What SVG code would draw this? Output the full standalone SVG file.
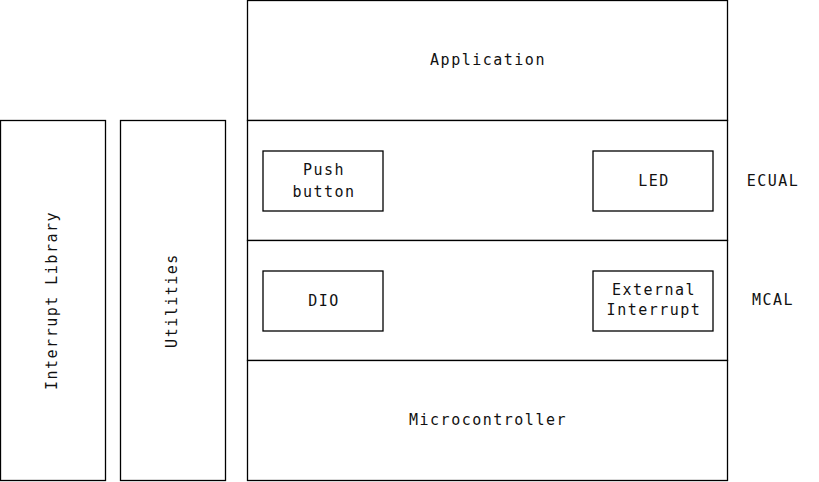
<svg xmlns="http://www.w3.org/2000/svg" width="819" height="482" viewBox="0 0 819 482">
<style>
.box{fill:#fff;stroke:#000;stroke-width:1.3}
text{font-family:"DejaVu Sans Mono","Liberation Mono",monospace;font-size:15px;fill:#111;text-anchor:middle;letter-spacing:1.5px}
</style>
<rect width="819" height="482" fill="#fff"/>
<g id="interrupt-library"><rect class="box" x="0.5" y="120.5" width="105" height="360"/><text transform="translate(57,300.5) rotate(-90)">Interrupt Library</text></g>
<g id="utilities"><rect class="box" x="120.5" y="120.5" width="105" height="360"/><text transform="translate(177,300.5) rotate(-90)">Utilities</text></g>
<g id="application"><rect class="box" x="247.5" y="0.5" width="480" height="120"/><text x="488" y="65">Application</text></g>
<g id="ecual-layer"><rect class="box" x="247.5" y="120.5" width="480" height="120"/></g>
<g id="mcal-layer"><rect class="box" x="247.5" y="240.5" width="480" height="120"/></g>
<g id="microcontroller"><rect class="box" x="247.5" y="360.5" width="480" height="120"/><text x="488" y="425">Microcontroller</text></g>
<g id="push-button"><rect class="box" x="263" y="151" width="120" height="60"/><text x="324" y="175">Push</text><text x="324" y="197">button</text></g>
<g id="led"><rect class="box" x="593" y="151" width="120" height="60"/><text x="654" y="186">LED</text></g>
<g id="dio"><rect class="box" x="263" y="271" width="120" height="60"/><text x="324" y="306">DIO</text></g>
<g id="external-interrupt"><rect class="box" x="593" y="271" width="120" height="60"/><text x="654" y="295">External</text><text x="654" y="315">Interrupt</text></g>
<g id="labels"><text x="773" y="186">ECUAL</text><text x="773" y="305">MCAL</text></g>
<g id="connectors"></g>
</svg>
